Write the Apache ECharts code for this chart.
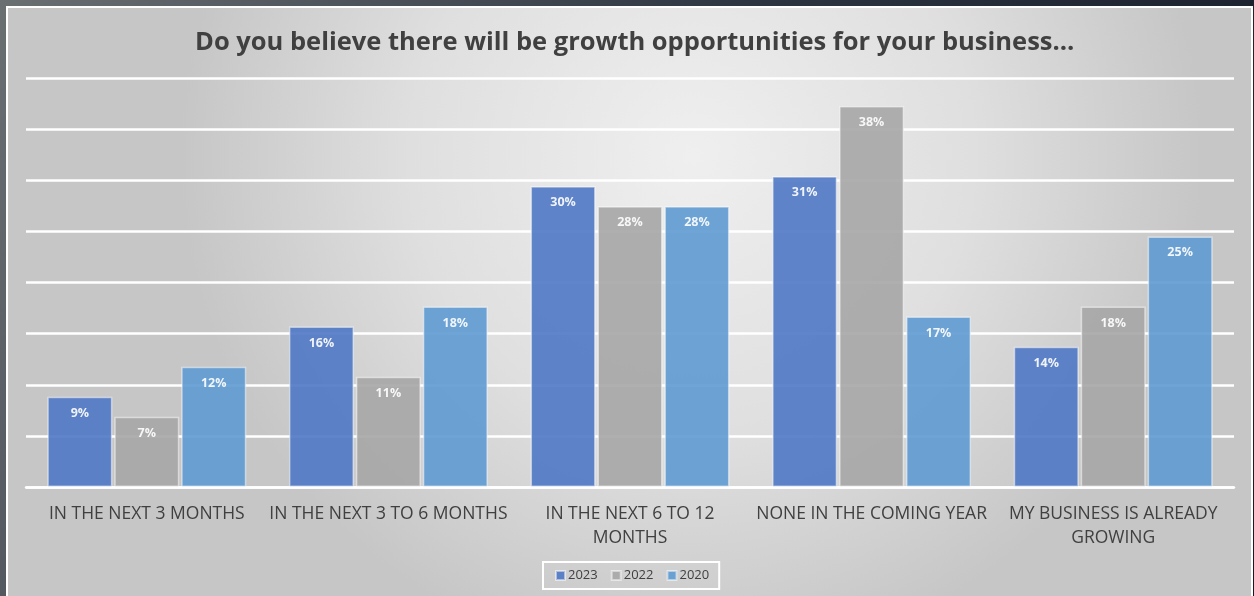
<!DOCTYPE html>
<html>
<head>
<meta charset="utf-8">
<script src="https://cdn.jsdelivr.net/npm/echarts@6/dist/echarts.min.js"></script>
<style>
  html, body { margin: 0; padding: 0; background: #2a3038; }
  #chart { width: 1254px; height: 596px; }
</style>
</head>
<body>
<div id="chart"></div>
<script>
// Survey answers, share of respondents (%) per year
const categories = [
  'IN THE NEXT 3 MONTHS',
  'IN THE NEXT 3 TO 6 MONTHS',
  'IN THE NEXT 6 TO 12\nMONTHS',
  'NONE IN THE COMING YEAR',
  'MY BUSINESS IS ALREADY\nGROWING'
];
const years = ['2023', '2022', '2020'];
const values2023 = [9, 16, 30, 31, 14];
const values2022 = [7, 11, 28, 38, 18];
const values2020 = [12, 18, 28, 17, 25];

const seriesValues = [values2023, values2022, values2020];
const seriesColors = ['#4f78c4', '#a6a6a6', '#5e9ad2'];

const FONT = '"Open Sans", "Noto Sans", sans-serif';
const TEXT = '#404040';

const chart = echarts.init(document.getElementById('chart'), null, { renderer: 'canvas' });

const option = {
  backgroundColor: {
    type: 'linear', x: 0, y: 0, x2: 1, y2: 1,
    colorStops: [
      { offset: 0, color: '#6a6f72' },
      { offset: 0.5, color: '#2c3440' },
      { offset: 1, color: '#141a26' }
    ]
  },
  animation: false,
  graphic: [
    {
      type: 'rect',
      z: -10,
      silent: true,
      shape: { x: 7, y: 7, width: 1245, height: 600 },
      style: {
        fill: {
          type: 'radial', x: 0.55, y: 0.25, r: 0.85,
          colorStops: [
            { offset: 0, color: '#efefef' },
            { offset: 0.55, color: '#dfdfdf' },
            { offset: 1, color: '#c6c6c6' }
          ]
        },
        stroke: '#ffffff',
        lineWidth: 2
      }
    }
  ],
  title: {
    text: 'Do you believe there will be growth opportunities for your business…',
    left: 190,
    top: 25,
    textStyle: {
      fontFamily: FONT,
      fontSize: 25.5,
      fontWeight: 'bold',
      color: TEXT
    }
  },
  legend: {
    data: years,
    bottom: 7,
    left: 543,
    icon: 'rect',
    itemWidth: 9,
    itemHeight: 9,
    itemGap: 13,
    padding: [7, 10, 7, 12],
    borderColor: '#ffffff',
    borderWidth: 2,
    textStyle: { fontFamily: FONT, fontSize: 13, color: TEXT, padding: [0, 0, 0, -2] }
  },
  grid: { left: 26, right: 20, top: 78, bottom: 109 },
  xAxis: {
    type: 'category',
    data: categories,
    axisLine: { show: true, lineStyle: { color: '#ffffff', width: 2.5 } },
    axisTick: { show: false },
    axisLabel: {
      interval: 0,
      margin: 15,
      fontFamily: FONT,
      fontSize: 17.5,
      color: TEXT,
      lineHeight: 24
    }
  },
  yAxis: {
    type: 'value',
    min: 0,
    max: 40.8,
    interval: 5.1,
    axisLine: { show: false },
    axisTick: { show: false },
    axisLabel: { show: false },
    splitLine: { lineStyle: { color: '#ffffff', width: 2.5 } }
  },
  series: years.map((year, i) => ({
    name: year,
    type: 'bar',
    data: seriesValues[i],
    barWidth: 65,
    barGap: '3%',
    itemStyle: {
      color: seriesColors[i],
      opacity: 0.9,
      borderColor: 'rgba(255,255,255,0.55)',
      borderWidth: 1.5
    },
    label: {
      show: true,
      position: 'insideTop',
      distance: 10,
      formatter: '{c}%',
      fontFamily: FONT,
      fontSize: 12.5,
      fontWeight: 'bold',
      color: '#ffffff'
    }
  }))
};

chart.setOption(option);
</script>
</body>
</html>
